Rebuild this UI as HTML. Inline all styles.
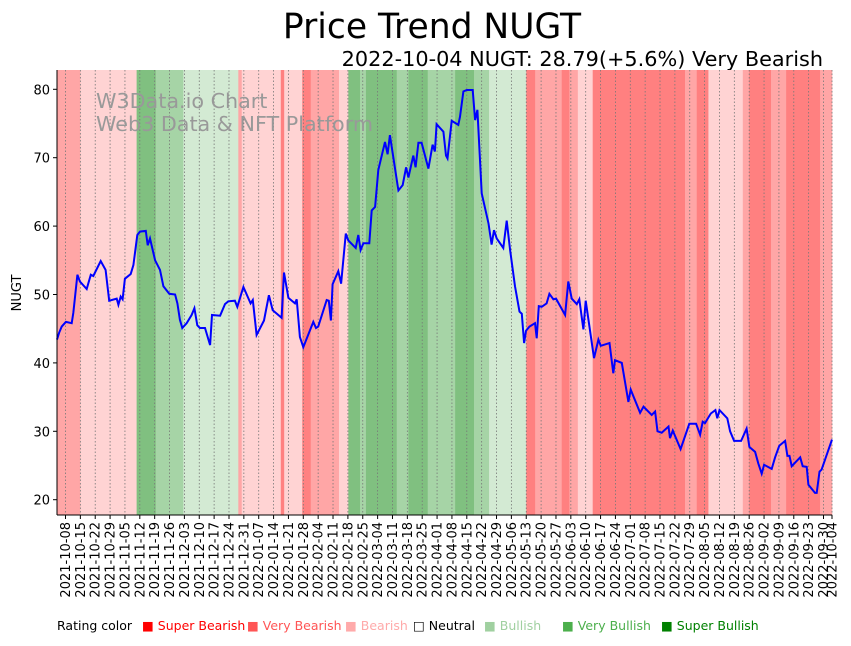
<!DOCTYPE html>
<html><head><meta charset="utf-8"><style>
body{margin:0;background:#fff;width:851px;height:641px;overflow:hidden}
svg{font-family:"DejaVu Sans","Liberation Sans",sans-serif}
</style></head><body>
<svg id="chart" width="851" height="641" xmlns="http://www.w3.org/2000/svg">
<text x="432" y="38" font-size="34.5" text-anchor="middle">Price Trend NUGT</text>
<text x="823" y="66" font-size="20.8" text-anchor="end">2022-10-04 NUGT: 28.79(+5.6%) Very Bearish</text>
<g id="bands"></g>
<g id="grid"></g>
<text x="96" y="108" font-size="20.7" fill="#999">W3Data.io Chart</text>
<text x="96" y="131" font-size="20.7" fill="#999">Web3 Data &amp; NFT Platform</text>
<path id="line" fill="none" stroke="#0000ff" stroke-width="2"/>
<g id="axes"></g>
<text transform="translate(21,293) rotate(-90)" font-size="13" text-anchor="middle">NUGT</text>
<g font-size="12.5">
<text x="57" y="630">Rating color</text>
<text x="142" y="630" fill="#ff0000">■ Super Bearish</text>
<text x="247" y="630" fill="#ff5555">■ Very Bearish</text>
<text x="345" y="630" fill="#ffaaaa">■ Bearish</text>
<text x="413" y="630" fill="#000">□ Neutral</text>
<text x="484" y="630" fill="#a0d0a0">■ Bullish</text>
<text x="562" y="630" fill="#4caf4c">■ Very Bullish</text>
<text x="661" y="630" fill="#008000">■ Super Bullish</text>
</g>
</svg>
<script>
const bandStarts=[0,11,37.5,46.5,59.5,85.4,87,105.4,107,115.5,119.5,132.8,137.2,142.7,145.5,160,165.5,174.6,183.2,187.5,196.4,203.5,221,225.2,237.7,241.3,245.3,252.3,295.8,301.3,306.8,323,326,336.3,343.4,359.4];
const bandLevels=[-2,-1,3,2,1,-2,-1,-3,-1,-3,-2,-1,3,2,3,2,3,2,2,3,2,1,-3,-2,-3,-2,-1,-3,-2,-3,-1,-2,-3,-2,-3,-2];
const priceDays=[0,1,2.2,4.2,6.9,7.7,9.6,10.8,14,15.9,17.1,20.6,22.9,24.6,28.1,28.9,30,30.9,32,34.7,36,37.8,39.1,41.8,42.7,43.8,46.2,48.5,50.1,52.9,55.6,56.7,57.9,59,61.1,63.4,64.7,66.1,67.3,69.7,72.1,73,76.8,79.1,80.7,83.8,84.9,87.8,91.2,92.2,94,97.5,99.8,101.6,105.8,106.9,109,112.1,112.9,114.4,116,120.7,122,123,127,128,129,129.8,132.5,133.8,136,137.2,140.7,141.9,143,144.3,147.1,148.2,149.8,151.3,154.5,155.7,156.8,160.8,162.8,164.4,165.5,167.8,168.9,170.2,171.7,174.9,176.9,178,178.8,182,183.2,183.9,185.9,189,189.8,191.4,193,195.8,196.9,198,200,203.2,204.7,205.8,207.1,210.2,211.8,213.4,215.7,217.8,218.9,220,220.9,222.5,225.1,225.9,226.9,228.3,230.6,231.9,233.8,235,239.3,240.8,242.4,244.8,246,247.9,249,252.9,255,256.1,260.2,262,262.8,266,269.1,270.2,274.6,276.2,280.1,281.7,282.8,284.8,288,288.7,290,293.7,297.8,301,302.9,304.1,305.2,307.9,310.1,311,312,315.7,317,318.9,322.2,324.8,326.1,328.8,330.3,331.9,333,336.6,338.2,340.2,342.9,344,345,346,350,351.2,353.1,353.9,357,357.8,359.1,360.1,365];
const priceValues=[43.4,44.4,45.3,46.0,45.8,47.3,52.9,51.9,50.8,52.9,52.7,54.9,53.6,49.1,49.4,48.5,49.7,49.3,52.3,53.0,54.3,58.7,59.2,59.3,57.2,58.2,55.0,53.6,51.2,50.1,50.0,48.7,46.3,45.1,45.8,47.0,48.0,45.5,45.1,45.1,42.6,47.0,46.9,48.6,49.0,49.1,48.2,51.1,48.7,49.2,44.1,46.2,49.9,47.7,46.6,53.2,49.5,48.7,49.3,43.8,42.3,46.0,45.1,45.3,49.2,49.1,46.2,51.5,53.4,51.6,58.9,57.9,56.8,58.7,56.5,57.5,57.5,62.3,62.8,68.2,72.3,70.5,73.3,65.2,66.0,68.6,67.1,70.3,68.6,72.2,72.2,68.4,71.9,70.9,74.9,73.8,70.3,69.9,75.4,74.8,76.0,79.7,79.9,79.9,75.5,77.0,64.8,60.4,57.3,59.4,58.2,56.8,60.8,56.5,51.2,47.5,47.2,42.9,44.7,45.3,45.8,43.6,48.3,48.2,48.7,50.1,49.3,49.4,47.0,51.9,49.4,48.6,49.3,44.9,49.1,40.7,43.4,42.5,42.9,38.5,40.4,40.0,34.3,36.1,32.7,33.6,32.4,32.9,30.0,29.8,30.7,29.0,30.1,27.4,31.1,31.1,29.5,31.4,31.2,32.6,33.1,31.9,33.1,31.9,30.0,28.6,28.6,30.4,27.7,27.0,25.3,23.8,25.1,24.5,26.2,27.9,28.6,26.4,26.4,24.9,26.2,24.9,24.8,22.2,21.0,21.0,24.1,24.4,28.79];
const yTicks=[20,30,40,50,60,70,80];
const xTickLabels=[];
(function(){const s=new Date(Date.UTC(2021,9,8));for(let i=0;i<52;i++){const d=new Date(s.getTime()+i*7*864e5);xTickLabels.push(d.toISOString().slice(0,10));}xTickLabels.push('2022-10-04');})();
const L=57,R=832,T=70,B=515,NDAYS=365,START=Date.UTC(2021,9,4);
const xs=d=>L+d*(R-L)/NDAYS;
const ys=v=>89.3+(80-v)*6.84;
const NS='http://www.w3.org/2000/svg';
function mk(tag,attrs,parent){const e=document.createElementNS(NS,tag);for(const k in attrs)e.setAttribute(k,attrs[k]);parent.appendChild(e);return e;}
const colors={'-3':'#ff8080','-2':'#ffa6a6','-1':'#ffd3d3','0':'#ffffff','1':'#d3ead3','2':'#a6d4a6','3':'#80c080'};
const bands=document.getElementById('bands');
bandStarts.forEach((s,i)=>{const e=i+1<bandStarts.length?bandStarts[i+1]:NDAYS;
const r=mk('rect',{x:xs(s),y:T,width:xs(e)-xs(s)+0.3,height:B-T,fill:colors[bandLevels[i]]},bands);

});
const grid=document.getElementById('grid'),axes=document.getElementById('axes');
xTickLabels.forEach(lbl=>{const d=(Date.parse(lbl)-START)/864e5;const x=xs(d);
const g=mk('line',{x1:x,x2:x,y1:T,y2:B,stroke:'#777','stroke-width':0.8,'stroke-dasharray':'1.5,2'},grid);


mk('line',{x1:x,x2:x,y1:B,y2:B+4,stroke:'#000'},axes);
const t=mk('text',{transform:`translate(${x+4.5},${B+7}) rotate(-90)`,'font-size':13,'text-anchor':'end'},axes);
t.textContent=lbl;

});
yTicks.forEach(v=>{const y=ys(v);mk('line',{x1:L-4,x2:L,y1:y,y2:y,stroke:'#000'},axes);
const t=mk('text',{x:L-7,y:y+5,'font-size':13,'text-anchor':'end'},axes);t.textContent=v;

});
mk('line',{x1:L,x2:L,y1:T,y2:B,stroke:'#000'},axes);
mk('line',{x1:L,x2:R,y1:B,y2:B,stroke:'#000'},axes);
document.getElementById('line').setAttribute('d',priceDays.map((d,i)=>(i?'L':'M')+xs(d).toFixed(1)+','+ys(priceValues[i]).toFixed(1)).join(''));
</script>
</body></html>
